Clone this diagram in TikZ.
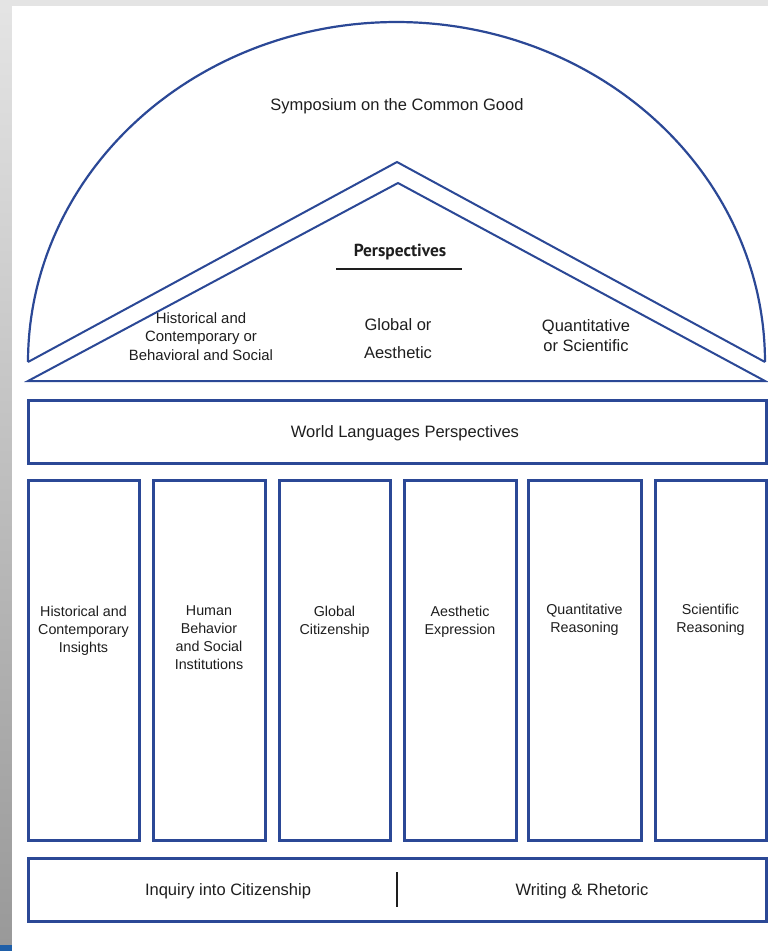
\documentclass[tikz,border=0pt]{standalone}
\usepackage{fontspec}
\setmainfont{Liberation Sans}
\newfontfamily\perspfont{PT Sans}
\definecolor{framec}{HTML}{2B4896}
\definecolor{txtc}{HTML}{1E1E1E}
\definecolor{bgc}{HTML}{E4E4E4}
\definecolor{stripblue}{HTML}{1F5FA8}
\tikzset{
  pillar/.style={draw=framec, line width=3pt, inner sep=0pt, minimum width=#1, minimum height=360pt},
  band/.style={draw=framec, line width=3pt, inner sep=0pt, minimum width=738pt, minimum height=63pt},
  roofline/.style={draw=framec, line width=2pt, line join=miter},
  coltext/.style={text=txtc, align=center, inner sep=0pt, anchor=north, font=\fontsize{14.3}{18}\selectfont},
  rooftext/.style={text=txtc, align=center, inner sep=0pt, anchor=north},
  bigtext/.style={text=txtc, inner sep=0pt, anchor=base, font=\fontsize{16.5}{20}\selectfont},
}
\begin{document}
\begin{tikzpicture}[x=1pt,y=-1pt]
\useasboundingbox (0,0) rectangle (768,951);
% background
\fill[bgc] (0,0) rectangle (768,951);
\shade[top color=bgc, bottom color=black!40] (0,6) rectangle (12,945);
\fill[stripblue] (0,945) rectangle (12,951);
\fill[white] (12,6) rectangle (768,951);

% roof
\coordinate (arcL) at (28,362);
\coordinate (arcR) at (765,362);
\coordinate (apexO) at (397,162);
\coordinate (apexI) at (398,183);
\coordinate (baseL) at (28,381);
\coordinate (baseR) at (765,381);
\draw[framec, line width=2.2pt] plot[domain=180:360, samples=120, smooth] ({396.5+368.5*cos(\x)},{362+340*sin(\x)});
\draw[roofline] (arcL) -- (apexO) -- (arcR);
\draw[roofline] (baseL) -- (apexI) -- (baseR) -- cycle;

\node[bigtext] (symp) at (397,110) {Symposium on the Common Good};
\node[text=txtc, inner sep=0pt, anchor=base, font=\perspfont\bfseries\fontsize{17.4}{20}\selectfont] (persp) at (400,256.5) {Perspectives};
\coordinate (ulL) at (336,269);
\coordinate (ulR) at (462,269);
\draw[txtc, line width=1.4pt] (ulL) -- (ulR);

\node[rooftext, font=\fontsize{14.9}{18.5}\selectfont] (histp) at (201,312.3) {Historical and\\Contemporary or\\Behavioral and Social};
\node[rooftext, font=\fontsize{16.5}{28}\selectfont] (globp) at (398,318.5) {Global or\\Aesthetic};
\node[rooftext, font=\fontsize{16.5}{20}\selectfont] (quantp) at (586,319.5) {Quantitative\\or Scientific};

% world languages
\node[band] (wl) at (397,431.5) {};
\node[bigtext] (wltext) at (405,437) {World Languages Perspectives};

% pillars
\node[pillar=111pt] (c1) at (83.5,660) {};
\node[pillar=112pt] (c2) at (209,660) {};
\node[pillar=111pt] (c3) at (334.5,660) {};
\node[pillar=112pt] (c4) at (460,660) {};
\node[pillar=113pt] (c5) at (584.5,660) {};
\node[pillar=111pt] (c6) at (710.5,660) {};

\node[coltext] (t1) at (83.5,605.5) {Historical and\\Contemporary\\Insights};
\node[coltext] (t2) at (209,605.5) {Human\\Behavior\\and Social\\Institutions};
\node[coltext] (t3) at (334.5,605.5) {Global\\Citizenship};
\node[coltext] (t4) at (460,605.5) {Aesthetic\\Expression};
\node[coltext] (t5) at (584.5,603.5) {Quantitative\\Reasoning};
\node[coltext] (t6) at (710.5,603.5) {Scientific\\Reasoning};

% foundation
\node[band] (found) at (397,889.5) {};
\coordinate (divT) at (397,872);
\coordinate (divB) at (397,907);
\draw[txtc, line width=1.4pt] (divT) -- (divB);
\node[bigtext] (inq) at (228,895) {Inquiry into Citizenship};
\node[bigtext] (wr) at (582,895) {Writing \& Rhetoric};
\end{tikzpicture}
\end{document}
